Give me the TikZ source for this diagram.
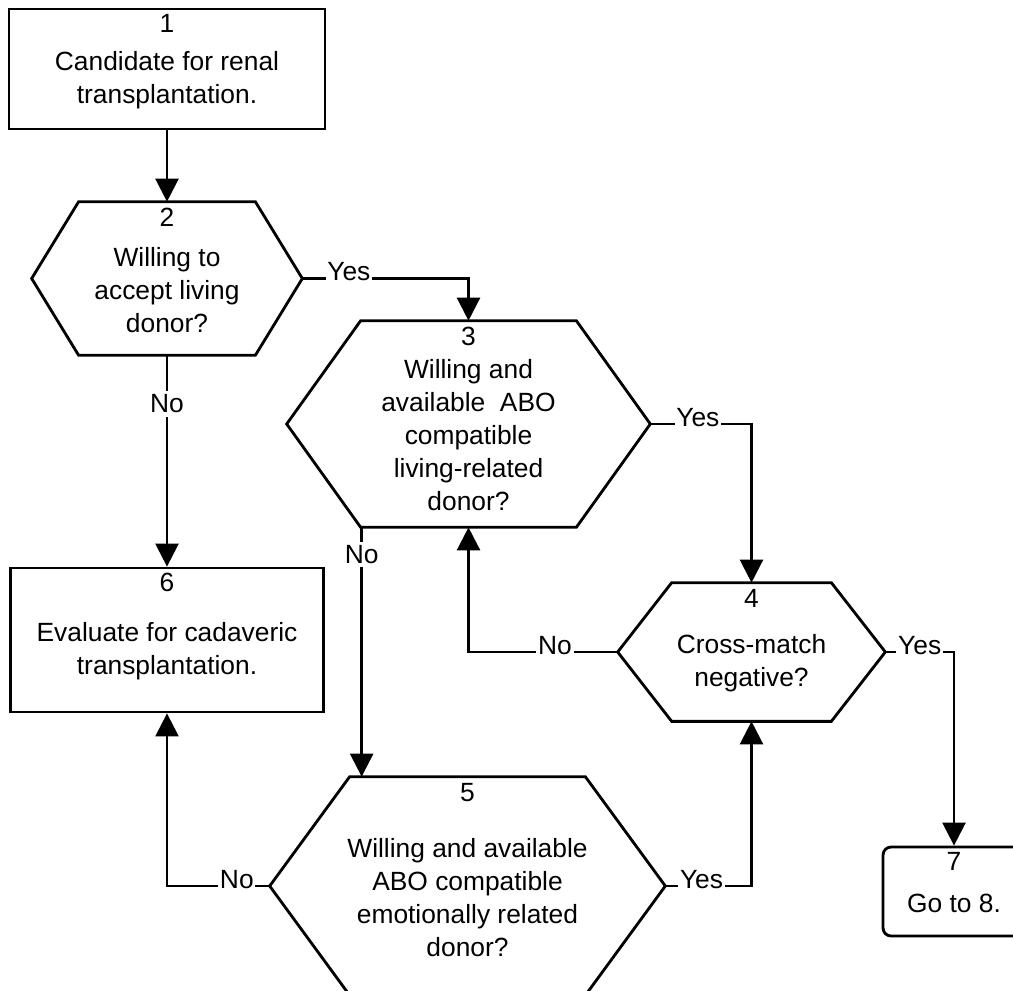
\documentclass[tikz,border=0pt]{standalone}
\usepackage{fontspec}
\setmainfont{Liberation Sans}
\usetikzlibrary{arrows.meta}
\tikzset{
  box/.style={draw, line width=1.6pt, inner sep=0pt, align=center},
  hex/.style={inner sep=0pt, align=center},
  num/.style={label={[anchor=north,inner sep=0pt,yshift=-0.12cm]north:#1}},
  flow/.style={line width=1.4pt, -{Triangle[length=0.46cm,width=0.46cm]}},
  lab/.style={fill=white, inner sep=1pt, anchor=base, yshift=-0.04cm},
  vlab/.style={fill=white, inner sep=2pt},
}
\newcommand\toppad{\rule{0pt}{0.84cm}}
\newcommand\drawhex[2]{\draw[line width=1.6pt, line join=miter] (#1.west) -- ([xshift=#2]#1.north west) -- ([xshift=-#2]#1.north east) -- (#1.east) -- ([xshift=-#2]#1.south east) -- ([xshift=#2]#1.south west) -- cycle;}
\begin{document}
\begin{tikzpicture}[x=0.02cm, y=-0.02cm, font=\fontsize{15pt}{18.8pt}\selectfont]
\useasboundingbox (0,0) rectangle (1013,990);
\clip (0,0) rectangle (1013,990);
% steps
\node[box, minimum width=6.32cm, minimum height=2.4cm, num=1] (b1) at (167,69) {\toppad Candidate for renal\\transplantation.};
\node[hex, minimum width=5.4cm, minimum height=3.06cm, num=2] (h2) at (167,278.5) {\toppad Willing to\\accept living\\donor?};
\node[hex, minimum width=7.26cm, minimum height=4.12cm, num=3] (h3) at (468.5,424) {\toppad Willing and\\available\ \ ABO\\compatible\\living-related\\donor?};
\node[hex, minimum width=5.34cm, minimum height=2.76cm, num=4] (h4) at (751.5,652) {\toppad Cross-match\\negative?};
\node[hex, minimum width=7.9cm, minimum height=4.36cm, num=5] (h5) at (467.5,886) {\toppad Willing and available\\ABO compatible\\emotionally related\\donor?};
\node[box, minimum width=6.26cm, minimum height=2.88cm, num=6] (b6) at (167,640) {\toppad Evaluate for cadaveric\\transplantation.};
\node[box, rounded corners=0.16cm, minimum width=2.84cm, minimum height=1.78cm, num=7] (b7) at (954,891.5) {\toppad Go to 8.};
\drawhex{h2}{0.94cm}
\drawhex{h3}{1.48cm}
\drawhex{h4}{1.08cm}
\drawhex{h5}{1.6cm}
\coordinate (h3sw) at ([xshift=1.5cm]h3.south west);
% connectors
\draw[flow] (b1.south) -- (h2.north);
\draw[flow] (h2.east) -| node[lab, pos=0.14]{Yes} (h3.north);
\draw[flow] (h2.south) -- node[vlab, pos=0.23]{No} (b6.north);
\draw[flow] (h3.east) -| node[lab, pos=0.235]{Yes} (h4.north);
\draw[flow] (h3sw) -- node[vlab, pos=0.11]{No} (h3sw |- h5.north);
\draw[flow] (h4.west) -| node[lab, pos=0.21]{No} (h3.south);
\draw[flow] (h4.east) -| node[lab, pos=0.25]{Yes} (b7.north);
\draw[flow] (h5.west) -| node[lab, pos=0.16]{No} (b6.south);
\draw[flow] (h5.east) -| node[lab, pos=0.21]{Yes} (h4.south);
\end{tikzpicture}
\end{document}
